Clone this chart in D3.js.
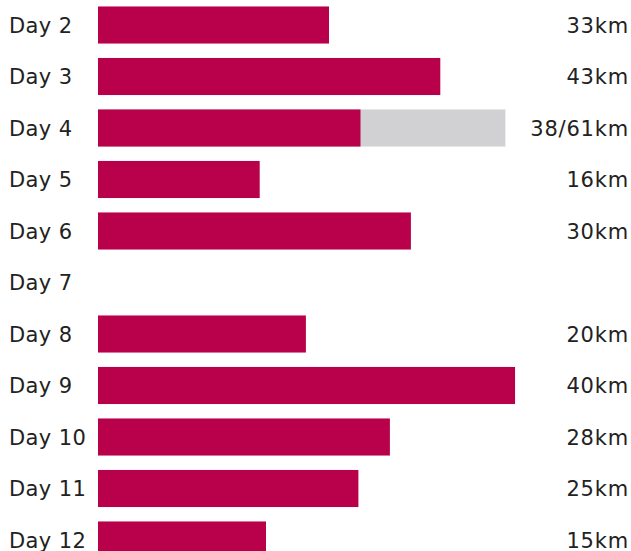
<!DOCTYPE html>
<html>
<head>
<meta charset="utf-8">
<script src="https://cdn.jsdelivr.net/npm/d3@7"></script>
<style>
  body { margin: 0; background: #fff; }
  text { font-family: "DejaVu Sans", sans-serif; }
</style>
</head>
<body>
<div id="chart_div"></div>
<script>
// days and what's written on the right
var days = ["Day 2", "Day 3", "Day 4", "Day 5", "Day 6", "Day 7", "Day 8", "Day 9", "Day 10", "Day 11", "Day 12"];
var kmLabels = ["33km", "43km", "38/61km", "16km", "30km", "", "20km", "40km", "28km", "25km", "15km"];
// bar lengths (same relative units), null = rest day
var doneValues = [55, 81.5, 62.5, 38.5, 74.5, null, 49.5, 99.3, 69.5, 62, 40];
// planned but not done (only day 4)
var plannedValues = [null, null, 97, null, null, null, null, null, null, null, null];

var all_width = 631, all_height = 551;
var margin = {left: 98, right: 3};

var svg = d3.select("#chart_div")
  .append("svg")
    .attr("width", all_width)
    .attr("height", all_height);

var rows = days.map(function(d, i) {
  return {day: d, km: kmLabels[i], done: doneValues[i], planned: plannedValues[i]};
});

// y as band, one row per day
var y = d3.scaleBand()
  .domain(days)
  .range([-0.75, 565.75])
  .paddingInner(0.28)
  .paddingOuter(0.14);

var x = d3.scaleLinear()
  .domain([0, 100])
  .range([margin.left, margin.left + 420]);

// grey planned part behind
svg.selectAll("plannedBars")
  .data(rows.filter(function(d) { return d.planned != null; }))
  .enter()
  .append("rect")
    .attr("x", x(0))
    .attr("y", function(d) { return y(d.day); })
    .attr("width", function(d) { return x(d.planned) - x(0); })
    .attr("height", y.bandwidth())
    .style("fill", "#d1d1d3");

svg.selectAll("doneBars")
  .data(rows.filter(function(d) { return d.done != null; }))
  .enter()
  .append("rect")
    .attr("x", x(0))
    .attr("y", function(d) { return y(d.day); })
    .attr("width", function(d) { return x(d.done) - x(0); })
    .attr("height", y.bandwidth())
    .style("fill", "#b9004b");

// day labels on the left
svg.selectAll("dayLabels")
  .data(rows)
  .enter()
  .append("text")
    .attr("x", 9)
    .attr("y", function(d) { return y(d.day) + y.bandwidth() / 2; })
    .attr("dy", "0.36em")
    .style("font-size", "21px")
    .style("letter-spacing", "0.4px")
    .style("fill", "#222")
    .text(function(d) { return d.day; });

// km labels on the right
svg.selectAll("kmLabels")
  .data(rows)
  .enter()
  .append("text")
    .attr("x", all_width - 2)
    .attr("y", function(d) { return y(d.day) + y.bandwidth() / 2; })
    .attr("dy", "0.36em")
    .attr("text-anchor", "end")
    .style("font-size", "21px")
    .style("letter-spacing", "0.8px")
    .style("fill", "#222")
    .text(function(d) { return d.km; });
</script>
</body>
</html>
